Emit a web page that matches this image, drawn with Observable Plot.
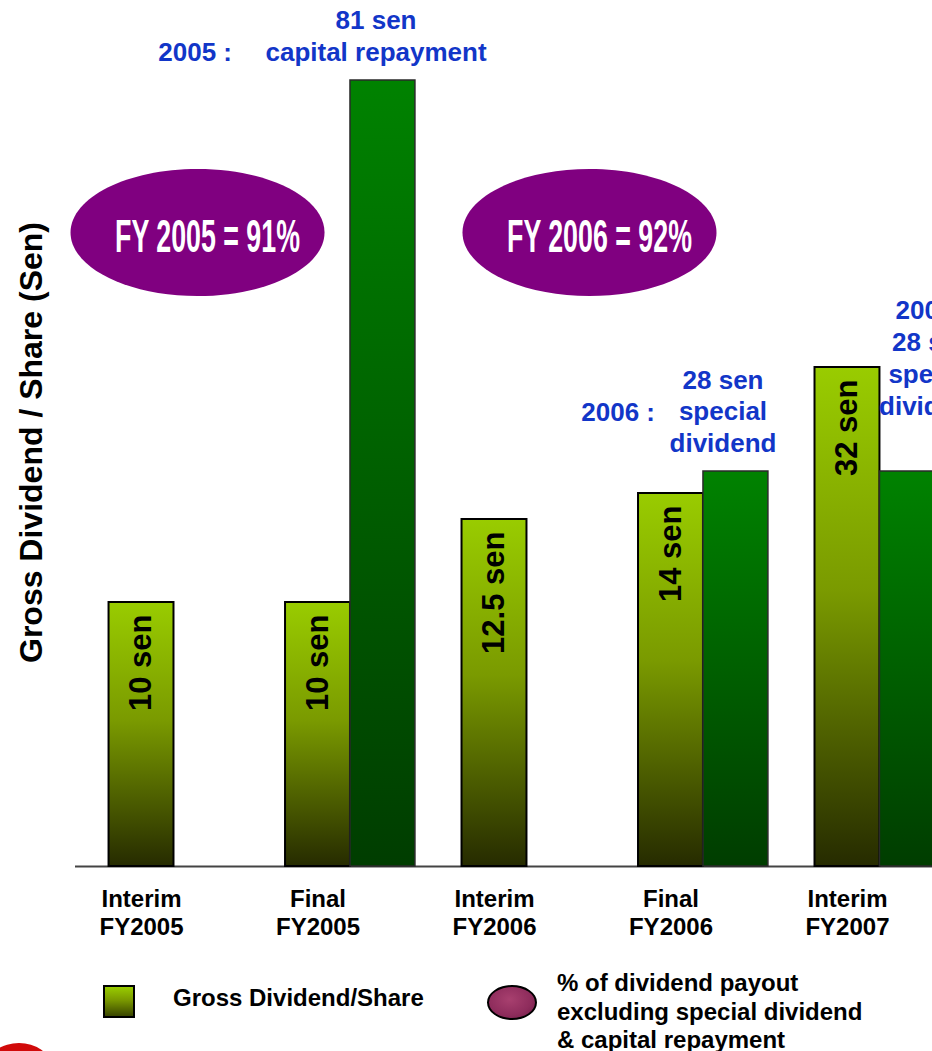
<!DOCTYPE html>
<html>
<head>
<meta charset="utf-8">
<script src="https://cdn.jsdelivr.net/npm/d3@7"></script>
<script src="https://cdn.jsdelivr.net/npm/@observablehq/plot@0.6"></script>
<style>
  body { margin: 0; background: #fff; font-family: "Liberation Sans", Arial, sans-serif; }
  #wrap { width: 932px; height: 1051px; overflow: hidden; position: relative; background: #fff; }
  #legend { position: relative; height: 96px; font-weight: bold; font-size: 24px; color: #000; }
  #legend .swatch-bar { position: absolute; left: 103px; top: 30px; width: 28px; height: 29px;
    border: 2px solid #000; background: linear-gradient(#99cc00, #7a9900 45%, #3a4600); }
  #legend .swatch-oval { position: absolute; left: 487px; top: 30px; width: 46px; height: 31px;
    border: 2px solid #000; border-radius: 50%;
    background: radial-gradient(ellipse at 45% 40%, #a8406f, #8e2c5c 60%, #6a1a42); }
  #legend .label-bar { position: absolute; left: 173px; top: 29px; line-height: 28px; white-space: nowrap; }
  #legend .label-oval { position: absolute; left: 557px; top: 14px; line-height: 28.5px; white-space: nowrap; }
  #legend .logo { position: absolute; left: -12px; top: 88px; width: 62px; height: 44px; border-radius: 50%; background: #d10a0a; }
</style>
</head>
<body>
<div id="wrap">
  <div id="chart"></div>
  <div id="legend"></div>
</div>
<script>
// Gross dividend per share for each payment (sen)
const periods = ["Interim FY2005", "Final FY2005", "Interim FY2006", "Final FY2006", "Interim FY2007"];
const grossDividend = [10, 10, 12.5, 14, 32];

// One-off payments made alongside a gross dividend (sen)
const extraPeriods = ["Final FY2005", "Final FY2006", "Interim FY2007"];
const extraYears = ["2005", "2006", "2007"];
const extraAmounts = [81, 28, 28];
const extraKinds = ["capital repayment", "special\ndividend", "special\ndividend"];

// Dividend payout ratio, excluding special dividend & capital repayment (%)
const payoutYears = ["FY 2005", "FY 2006"];
const payoutPercent = [91, 92];
const payoutPeriods = ["Interim FY2005", "Interim FY2006"];

// Legend entries
const legendBarLabel = "Gross Dividend/Share";
const legendOvalLines = ["% of dividend payout", "excluding special dividend", "& capital repayment"];
const yTitle = "Gross Dividend / Share (Sen)";

const gross = periods.map((p, i) => ({period: p, value: grossDividend[i]}));
const extras = extraPeriods.map((p, i) => ({period: p, year: extraYears[i], amount: extraAmounts[i], kind: extraKinds[i]}));
const payout = payoutYears.map((y, i) => ({year: y, percent: payoutPercent[i], period: payoutPeriods[i]}));

// Band layout shared with Plot so that the side bars can sit next to their gross bar
const xBand = d3.scaleBand().domain(periods).range([-3, 991]).padding(0.632);
const bw = xBand.bandwidth();

// Ellipse symbol for the payout badges (height is half the width)
const oval = {
  draw(ctx, size) {
    const rx = Math.sqrt(size / Math.PI), ry = rx * 0.5, k = 0.5523;
    ctx.moveTo(rx, 0);
    ctx.bezierCurveTo(rx, k * ry, k * rx, ry, 0, ry);
    ctx.bezierCurveTo(-k * rx, ry, -rx, k * ry, -rx, 0);
    ctx.bezierCurveTo(-rx, -k * ry, -k * rx, -ry, 0, -ry);
    ctx.bezierCurveTo(k * rx, -ry, rx, -k * ry, rx, 0);
    ctx.closePath();
  }
};

const blue = "#1236c8";
const bold = {fontWeight: "bold"};

// Horizontal placement of each badge, relative to its period
const ovalShift = {"FY 2005": 56, "FY 2006": 95};
const ovalTextShift = 10;

const marks = [
  Plot.ruleY([0], {stroke: "#444", strokeWidth: 2}),
  // gross dividend bars
  Plot.barY(gross, {x: "period", y1: 0, y2: "value", fill: "url(#gLight)", stroke: "#000", strokeWidth: 2}),
  // capital repayment / special dividend bars, just right of the gross bar
  Plot.barY(extras, {x: "period", y1: 0, y2: "amount", dx: bw, fill: "url(#gDark)", stroke: "#2a2a2a", strokeWidth: 1.5}),
  // value labels inside the gross bars
  Plot.text(gross, {x: "period", y: "value", text: d => `${d.value} sen`, rotate: -90, textAnchor: "end",
    dy: 12, fontSize: 31, ...bold, fill: "#000"}),
  // y title
  Plot.text([yTitle], {text: d => d, frameAnchor: "left", textAnchor: "middle", lineAnchor: "middle", rotate: -90,
    dx: -44, dy: 9, fontSize: 32, ...bold, fill: "#000"}),
  // category labels
  Plot.axisX({tickSize: 0, tickPadding: 20, fontSize: 24, ...bold, fill: "#000", lineHeight: 1.19,
    tickFormat: d => d.replace(" ", "\n"), label: null})
];

// Annotations over the one-off payments
const [e05, e06, e07] = extras;
marks.push(
  Plot.text([e05], {x: "period", y: "amount", text: d => `${d.amount} sen\n${d.kind}`, dx: 58, dy: -20,
    lineAnchor: "bottom", lineHeight: 1.23, fontSize: 26, ...bold, fill: blue}),
  Plot.text([e05], {x: "period", y: "amount", text: d => `${d.year} :`, dx: -86, dy: -20,
    textAnchor: "end", lineAnchor: "bottom", fontSize: 26, ...bold, fill: blue}),
  Plot.text([e06], {x: "period", y: "amount", text: d => `${d.amount} sen\n${d.kind}`, dx: 52, dy: -20,
    lineAnchor: "bottom", lineHeight: 1.2, fontSize: 26, ...bold, fill: blue}),
  Plot.text([e06], {x: "period", y: "amount", text: d => `${d.year} :`, dx: -16, dy: -51,
    textAnchor: "end", lineAnchor: "bottom", fontSize: 26, ...bold, fill: blue}),
  Plot.text([e07], {x: "period", y: "amount", text: d => `${d.year} :\n${d.amount} sen\n${d.kind}`, dx: 85, dy: -57,
    lineAnchor: "bottom", lineHeight: 1.22, fontSize: 26, ...bold, fill: blue})
);

// Payout badges
for (const p of payout) {
  marks.push(
    Plot.dot([p], {x: "period", frameAnchor: "top", dy: 232, dx: ovalShift[p.year], r: 127, symbol: oval,
      fill: "#800080", stroke: "none"}),
    Plot.text([p], {x: "period", frameAnchor: "top", textAnchor: "middle", lineAnchor: "middle",
      dy: 236, dx: ovalShift[p.year] + ovalTextShift,
      text: d => `${d.year} = ${d.percent}%`, fontSize: 47, ...bold, fill: "#fff", ariaLabel: () => "payout-label"})
  );
}

const chart = Plot.plot({
  width: 932,
  height: 955,
  marginTop: 0,
  marginRight: 0,
  marginBottom: 89,
  marginLeft: 75,
  style: {fontFamily: "'Liberation Sans', Arial, sans-serif", background: "#fff", overflow: "hidden"},
  x: {type: "band", domain: periods, range: xBand.range(), padding: 0.632, round: false, label: null},
  // presentation heights: bars are drawn to the slide's stepped scale rather than proportionally
  y: {type: "linear", domain: [0, 10, 12.5, 14, 28, 32, 81], range: [866, 602, 519, 493, 471, 367, 80], axis: null},
  marks
});

// gradient fills for the bars
const defs = d3.create("svg:defs");
const gl = defs.append("linearGradient").attr("id", "gLight").attr("x1", 0).attr("y1", 0).attr("x2", 0).attr("y2", 1);
gl.append("stop").attr("offset", 0).attr("stop-color", "#99cc00");
gl.append("stop").attr("offset", 0.45).attr("stop-color", "#7a9a00");
gl.append("stop").attr("offset", 1).attr("stop-color", "#262b00");
const gd = defs.append("linearGradient").attr("id", "gDark").attr("x1", 0).attr("y1", 0).attr("x2", 0).attr("y2", 1);
gd.append("stop").attr("offset", 0).attr("stop-color", "#008200");
gd.append("stop").attr("offset", 1).attr("stop-color", "#003d00");
chart.insertBefore(defs.node(), chart.firstChild);

// condensed lettering inside the badges
d3.select(chart).selectAll('[aria-label="payout-label"]').each(function () {
  const el = this.tagName.toLowerCase() === "text" ? this : this.querySelector("text");
  if (!el) return;
  let t = el.getAttribute("transform");
  if (!t) {
    const x = +el.getAttribute("x") || 0, y = +el.getAttribute("y") || 0;
    t = `translate(${x},${y})`;
    el.removeAttribute("x");
    el.removeAttribute("y");
  }
  el.setAttribute("transform", t + " scale(0.57,1)");
});

document.getElementById("chart").appendChild(chart);

// legend
const legend = d3.select("#legend");
legend.append("div").attr("class", "swatch-bar");
legend.append("div").attr("class", "label-bar").text(legendBarLabel);
legend.append("div").attr("class", "swatch-oval");
legend.append("div").attr("class", "label-oval").html(legendOvalLines.map(s => s.replace(/&/g, "&amp;")).join("<br>"));
legend.append("div").attr("class", "logo");
</script>
</body>
</html>
